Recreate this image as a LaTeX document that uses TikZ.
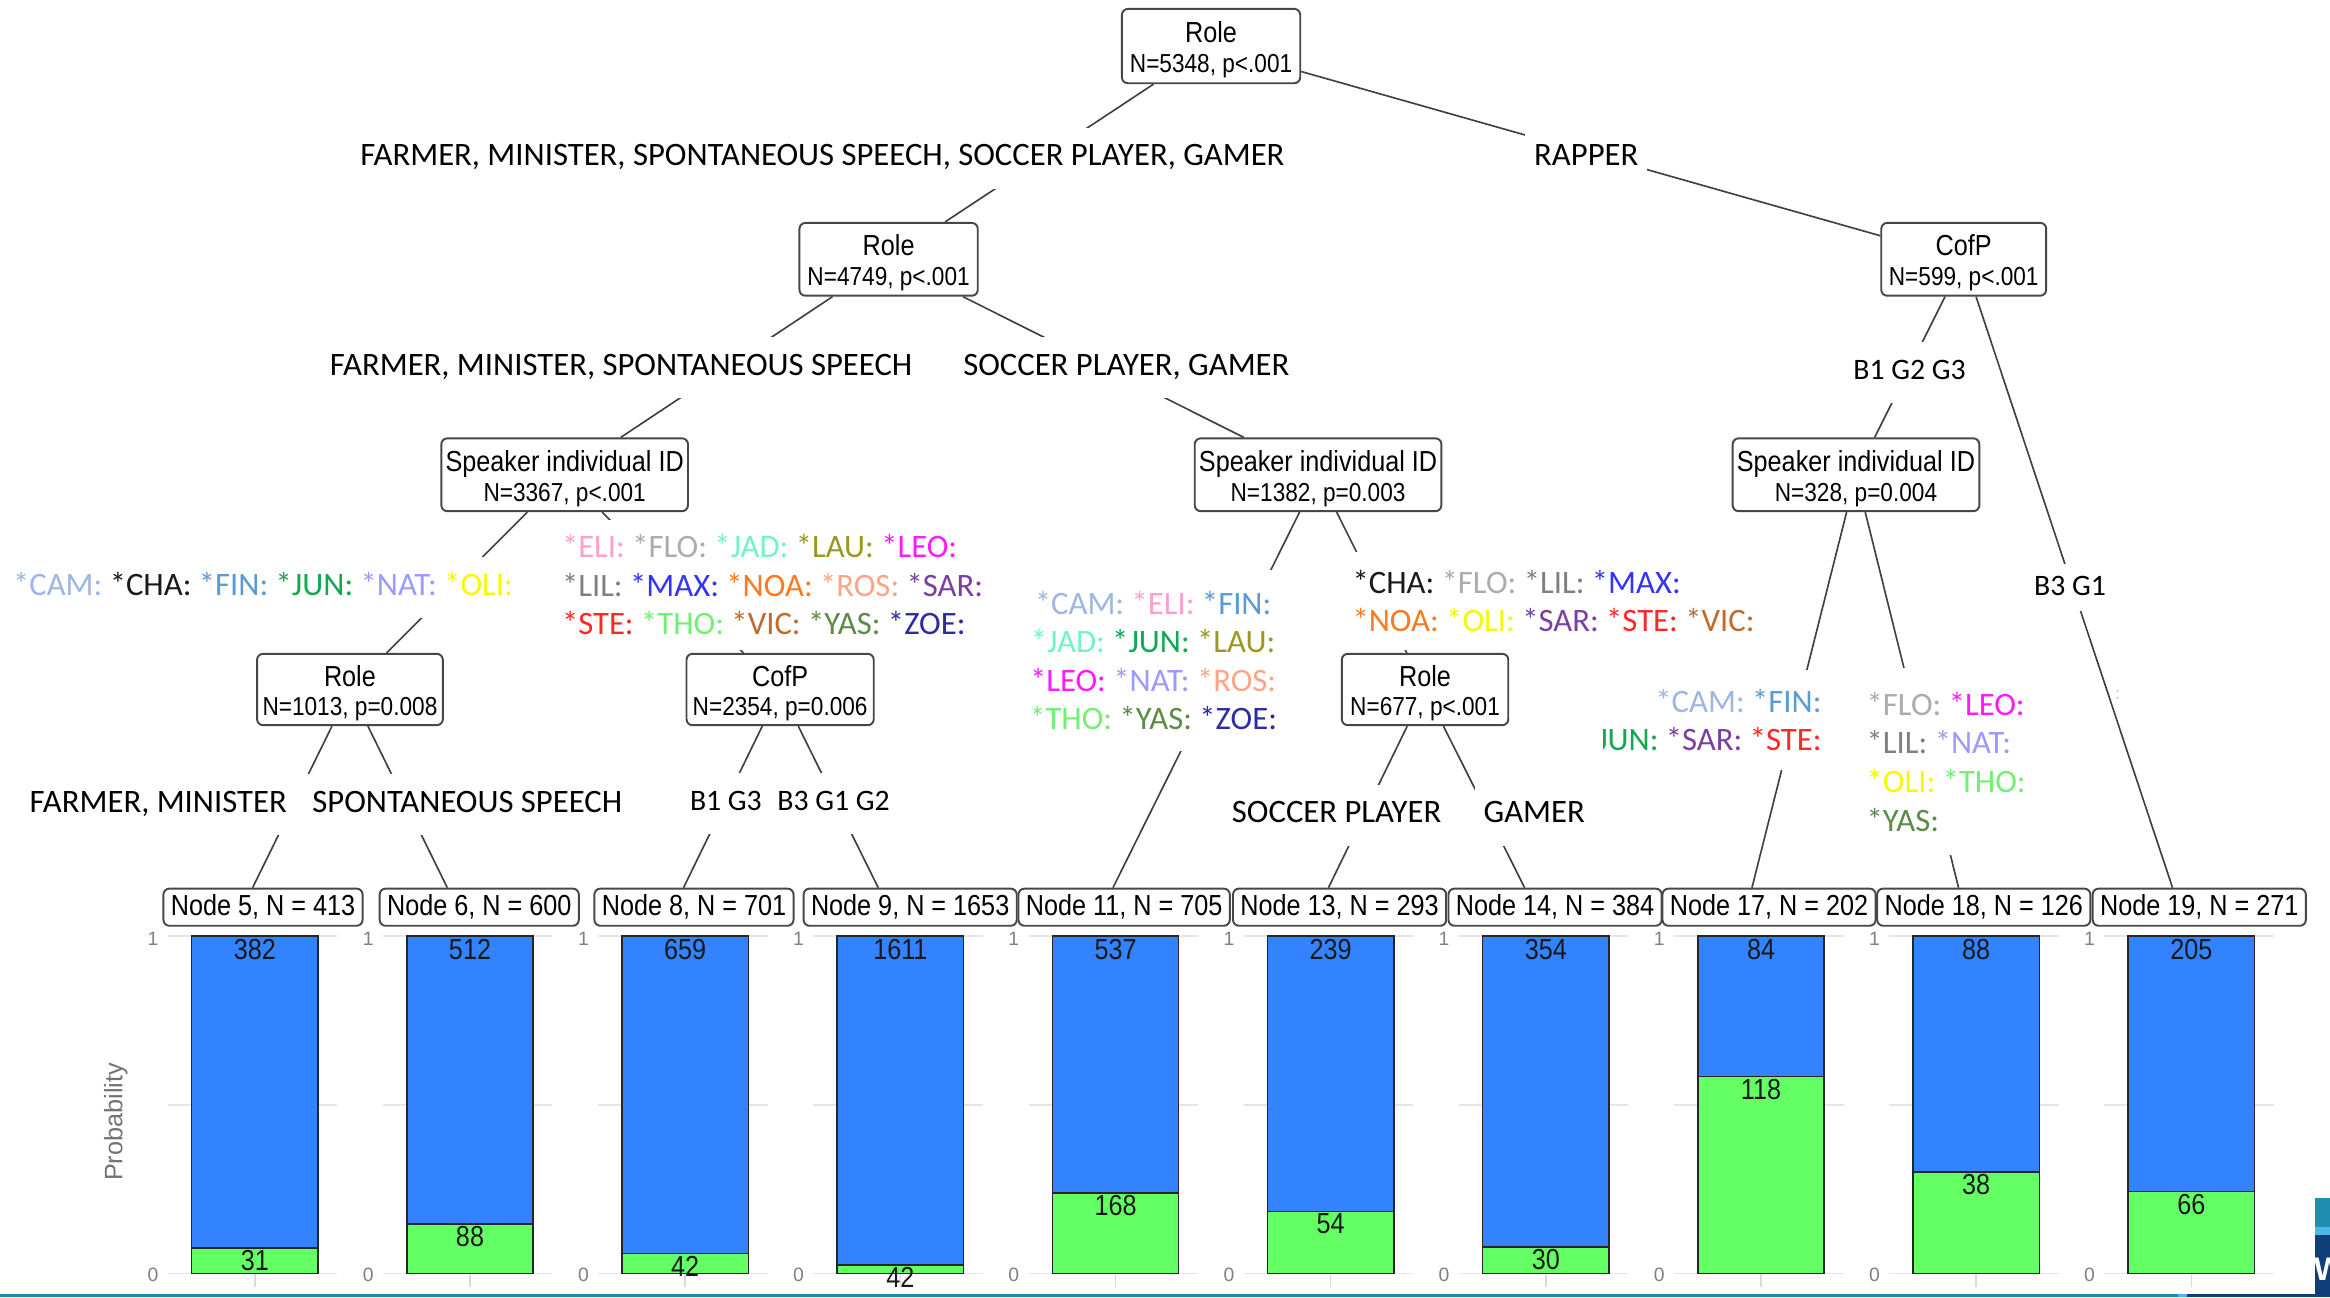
\documentclass[tikz,border=0pt]{standalone}
\usepackage{fontspec}
\setmainfont{Carlito}
\newfontfamily\narrowfont[FakeStretch=0.87]{Liberation Sans}
\newfontfamily\arialfont{Liberation Sans}
\usetikzlibrary{calc}
\definecolor{cCAM}{HTML}{9EB6E3}
\definecolor{cCHA}{HTML}{1A1A1A}
\definecolor{cFIN}{HTML}{5B9BD5}
\definecolor{cJUN}{HTML}{12A852}
\definecolor{cNAT}{HTML}{9B9BFF}
\definecolor{cOLI}{HTML}{F8F800}
\definecolor{cELI}{HTML}{FF9FCF}
\definecolor{cFLO}{HTML}{ACACAC}
\definecolor{cJAD}{HTML}{72F2C8}
\definecolor{cLAU}{HTML}{999922}
\definecolor{cLEO}{HTML}{FF1AFF}
\definecolor{cLIL}{HTML}{7F7F7F}
\definecolor{cMAX}{HTML}{3333FF}
\definecolor{cNOA}{HTML}{FF7A1F}
\definecolor{cROS}{HTML}{FFA585}
\definecolor{cSAR}{HTML}{7A3FA0}
\definecolor{cSTE}{HTML}{FF2626}
\definecolor{cTHO}{HTML}{72F072}
\definecolor{cVIC}{HTML}{C06A2B}
\definecolor{cYAS}{HTML}{5A8C46}
\definecolor{cZOE}{HTML}{2B2BA5}
\definecolor{barblue}{HTML}{3383FF}
\definecolor{bargreen}{HTML}{64FF64}
\definecolor{lineteal}{HTML}{1F8AAE}
\definecolor{logoteal}{HTML}{1E8FAF}
\definecolor{logolight}{HTML}{4DB8E8}
\definecolor{logonavy}{HTML}{0F3E78}
\definecolor{faintblue}{HTML}{BFD8F0}
\newcommand\spkr[1]{\textcolor{c#1}{*#1:}}
\tikzset{
  innerbox/.style={draw=black!72, line width=1.3pt, rounded corners=4pt, fill=white,
    align=center, inner sep=0pt, font=\narrowfont\fontsize{17.5}{20}\selectfont},
  termbox/.style={draw=black!72, line width=1.3pt, rounded corners=4pt, fill=white,
    minimum height=25pt, inner xsep=5pt, inner ysep=0pt,
    font=\narrowfont\fontsize{19.5}{20}\selectfont},
  edge/.style={draw=black!75, line width=1.1pt},
  lab/.style={fill=white, inner xsep=6pt, inner ysep=11.5pt, text height=14pt,
    text depth=4pt, font=\fontsize{22}{26}\selectfont},
  blab/.style={lab, font=\fontsize{20}{24}\selectfont},
  mlab/.style={fill=white, inner xsep=2pt, inner ysep=12pt, font=\fontsize{22}{26}\selectfont},
  gridln/.style={draw=black!10, line width=1.2pt},
  barline/.style={draw=black!85, line width=1pt},
  num/.style={inner sep=1pt, font=\narrowfont\fontsize{19.5}{20}\selectfont, text=black!90},
  axlab/.style={inner sep=0pt, font=\arialfont\fontsize{13}{13}\selectfont, text=black!50},
}
\newcommand\firstln[1]{{\fontsize{19.5}{20}\selectfont\rule{0pt}{19pt}#1}}
\begin{document}
\begin{tikzpicture}[x=1pt,y=-1pt]
\useasboundingbox[fill=white] (0,0) rectangle (1568,873);

% inner nodes
\node[innerbox, minimum width=120pt, minimum height=50pt] (root) at (815,31) {\firstln{Role}\\N=5348, p<.001};
\node[innerbox, minimum width=120pt, minimum height=49pt] (role2) at (598,174.5) {\firstln{Role}\\N=4749, p<.001};
\node[innerbox, minimum width=111pt, minimum height=49pt] (cofpT) at (1321.5,174.5) {\firstln{CofP}\\N=599, p<.001};
\node[innerbox, minimum width=166pt, minimum height=49pt] (spkL) at (380,319.5) {\firstln{Speaker individual ID}\\N=3367, p<.001};
\node[innerbox, minimum width=166pt, minimum height=49pt] (spkM) at (887,319.5) {\firstln{Speaker individual ID}\\N=1382, p=0.003};
\node[innerbox, minimum width=166pt, minimum height=49pt] (spkR) at (1249,319.5) {\firstln{Speaker individual ID}\\N=328, p=0.004};
\node[innerbox, minimum width=125pt, minimum height=48pt] (role3) at (235.5,464) {\firstln{Role}\\N=1013, p=0.008};
\node[innerbox, minimum width=126pt, minimum height=48pt] (cofpM) at (525,464) {\firstln{CofP}\\N=2354, p=0.006};
\node[innerbox, minimum width=112pt, minimum height=48pt] (role4) at (959,464) {\firstln{Role}\\N=677, p<.001};

% terminal nodes
\node[termbox] (n5) at (177,610.5) {Node 5, N = 413};
\node[termbox] (n6) at (322.5,610.5) {Node 6, N = 600};
\node[termbox] (n8) at (467,610.5) {Node 8, N = 701};
\node[termbox] (n9) at (612.5,610.5) {Node 9, N = 1653};
\node[termbox] (n11) at (756.5,610.5) {Node 11, N = 705};
\node[termbox] (n13) at (901.5,610.5) {Node 13, N = 293};
\node[termbox] (n14) at (1046.5,610.5) {Node 14, N = 384};
\node[termbox] (n17) at (1190.5,610.5) {Node 17, N = 202};
\node[termbox] (n18) at (1335,610.5) {Node 18, N = 126};
\node[termbox] (n19) at (1480,610.5) {Node 19, N = 271};

% edges
\draw[edge] (root) -- (role2);
\draw[edge] (root) -- (cofpT);
\draw[edge] (role2) -- (spkL);
\draw[edge] (role2) -- (spkM);
\draw[edge] (cofpT) -- (spkR);
\draw[edge] (cofpT) -- ($(n19.north)+(-18,0)$);
\draw[edge] (spkL) -- (role3);
\draw[edge] (spkL) -- (cofpM);
\draw[edge] (spkM) -- ($(n11.north)+(-7.5,0)$);
\draw[edge] (spkM) -- (role4);
\draw[edge] (spkR) -- ($(n17.north)+(-11.5,0)$);
\draw[edge] (spkR) -- ($(n18.north)+(-17,0)$);
\draw[edge] (role3) -- ($(n5.north)+(-7,0)$);
\draw[edge] (role3) -- ($(n6.north)+(-21.5,0)$);
\draw[edge] (cofpM) -- ($(n8.north)+(-7,0)$);
\draw[edge] (cofpM) -- ($(n9.north)+(-21.5,0)$);
\draw[edge] (role4) -- ($(n13.north)+(-7.5,0)$);
\draw[edge] (role4) -- ($(n14.north)+(-20.5,0)$);

% edge labels
\node[lab] (l1) at (553.5,106.5) {FARMER, MINISTER, SPONTANEOUS SPEECH, SOCCER PLAYER, GAMER};
\node[lab] (l2) at (1067.5,106.5) {RAPPER};
\node[lab] (l3) at (418,247.5) {FARMER, MINISTER, SPONTANEOUS SPEECH};
\node[lab] (l4) at (758,247.5) {SOCCER PLAYER, GAMER};
\node[blab] (l5) at (1285,250.5) {B1 G2 G3};
\node[blab, inner ysep=7pt] (l6) at (1393,395.5) {B3 G1};
\node[lab] (l7) at (177,395.5) {\spkr{CAM} \spkr{CHA} \spkr{FIN} \spkr{JUN} \spkr{NAT} \spkr{OLI}};
\node[mlab, anchor=west, align=left, inner ysep=10pt] (l8) at (376,393.5)
  {\spkr{ELI} \spkr{FLO} \spkr{JAD} \spkr{LAU} \spkr{LEO}\\
   \spkr{LIL} \spkr{MAX} \spkr{NOA} \spkr{ROS} \spkr{SAR}\\
   \spkr{STE} \spkr{THO} \spkr{VIC} \spkr{YAS} \spkr{ZOE}};
\node[lab, minimum width=200pt] (l9) at (106.5,541.5) {FARMER, MINISTER};
\node[lab] (l10) at (314.5,541.5) {SPONTANEOUS SPEECH};
\node[blab, inner xsep=4pt] (l11) at (488.5,540.5) {B1 G3};
\node[blab, inner xsep=4pt] (l12) at (561,540.5) {B3 G1 G2};
\begin{scope}
\clip (696,370) rectangle (870,515);
\node[mlab, align=center, inner ysep=14pt] (l13) at (776,444.5)
  {\spkr{CAM} \spkr{ELI} \spkr{FIN}\\
   \spkr{JAD} \spkr{JUN} \spkr{LAU}\\
   \spkr{LEO} \spkr{NAT} \spkr{ROS}\\
   \spkr{THO} \spkr{YAS} \spkr{ZOE}};
\end{scope}
\node[mlab, anchor=west, align=left] (l14) at (908,404.5)
  {\spkr{CHA} \spkr{FLO} \spkr{LIL} \spkr{MAX}\\
   \spkr{NOA} \spkr{OLI} \spkr{SAR} \spkr{STE} \spkr{VIC}};
\node[lab] (l15) at (899.5,548.5) {SOCCER PLAYER};
\node[lab] (l16) at (1032.5,548.5) {GAMER};
\begin{scope}
\clip (1079,440) rectangle (1236,525);
\node[mlab, anchor=east, align=right, inner ysep=13pt] (l17) at (1228,484.5)
  {\spkr{CAM} \spkr{FIN}\\
   \spkr{JUN} \spkr{SAR} \spkr{STE}};
\end{scope}
\node[mlab, anchor=west, align=left, inner ysep=16pt] (l18) at (1254,512.5)
  {\spkr{FLO} \spkr{LEO}\\
   \spkr{LIL} \spkr{NAT}\\
   \spkr{OLI} \spkr{THO}\\
   \spkr{YAS}};
\node[inner sep=0pt, text=faintblue, font=\fontsize{14}{14}\selectfont] (faint) at (1425,468) {:};

% bar panels
\foreach \i/\bl/\gr/\tot in {0/382/31/413, 1/512/88/600, 2/659/42/701, 3/1611/42/1653,
   4/537/168/705, 5/239/54/293, 6/354/30/384, 7/84/118/202, 8/88/38/126, 9/205/66/271}{
  \pgfmathsetmacro\xl{129+144.8*\i}
  \pgfmathsetmacro\xr{\xl+85}
  \pgfmathsetmacro\xc{\xl+42.5}
  \pgfmathsetmacro\gt{857-227*(\gr/\tot)}
  \draw[gridln] (\xl-16,630) -- (\xr+13,630);
  \draw[gridln] (\xl-16,743.5) -- (\xr+13,743.5);
  \draw[gridln] (\xl-16,857) -- (\xr+13,857);
  \draw[draw=black!15, line width=1pt] (\xc,857) -- (\xc,866);
  \node[axlab] (one\i) at (\xl-26,632) {1};
  \node[axlab] (zero\i) at (\xl-26,858) {0};
  \draw[barline, fill=barblue] (\xl,630) rectangle (\xr,\gt);
  \draw[barline, fill=bargreen] (\xl,\gt) rectangle (\xr,857);
  \node[num, anchor=north] (cb\i) at (\xc,631) {\bl};
  \node[num, anchor=north] (cg\i) at (\xc,\gt+0.5) {\gr};
}
\node[rotate=90, inner sep=0pt, text=black!55, font=\arialfont\fontsize{17}{17}\selectfont] (prob) at (78,755) {Probability};

% bottom band and logo
\fill[lineteal] (0,870.5) rectangle (1466,873);
\fill[logolight] (1466,870.5) rectangle (1472,873);
\fill[logonavy] (1472,870.5) rectangle (1568,873);
\fill[logoteal] (1558,806) rectangle (1568,826);
\fill[logolight] (1558,826) rectangle (1568,831);
\fill[logonavy] (1558,831) rectangle (1568,873);
\begin{scope}
\clip (1558,831) rectangle (1568,873);
\node[anchor=west, text=white, inner sep=0pt, font=\arialfont\bfseries\fontsize{22}{22}\selectfont] (logow) at (1557,854) {W};
\end{scope}
\end{tikzpicture}
\end{document}
